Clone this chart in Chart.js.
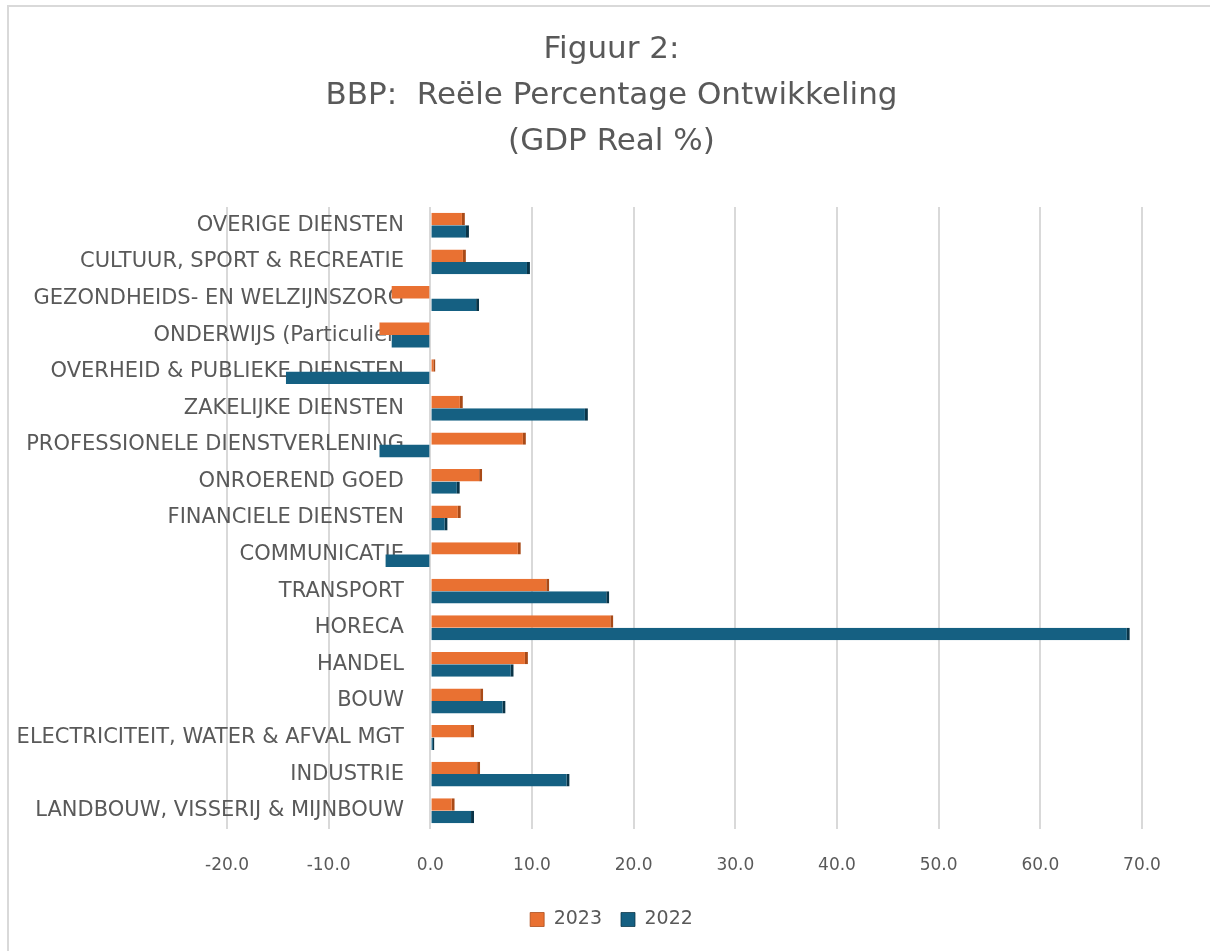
<!DOCTYPE html>
<html lang="nl">
<head>
<meta charset="UTF-8" />
<title>Figuur 2: BBP Reële Percentage Ontwikkeling</title>
<script src="https://cdn.jsdelivr.net/npm/chart.js@4"></script>
<style>
  html, body { margin: 0; padding: 0; background: #fff; overflow: hidden; }
  .frame { position: absolute; left: 7px; top: 5px; width: 1260px; height: 1000px; border: 2px solid #d9d9d9; box-sizing: border-box; }
  .wrap { position: absolute; left: 0; top: 0; width: 1210px; height: 951px; }
</style>
</head>
<body>
<div class="frame"></div>
<div class="wrap"><canvas id="gdpChart" width="1210" height="951"></canvas></div>
<script>
// sectors, top to bottom as shown in the picture
const sectors = [
  'OVERIGE DIENSTEN',
  'CULTUUR, SPORT & RECREATIE',
  'GEZONDHEIDS- EN WELZIJNSZORG',
  'ONDERWIJS (Particulier)',
  'OVERHEID & PUBLIEKE DIENSTEN',
  'ZAKELIJKE DIENSTEN',
  'PROFESSIONELE DIENSTVERLENING',
  'ONROEREND GOED',
  'FINANCIELE DIENSTEN',
  'COMMUNICATIE',
  'TRANSPORT',
  'HORECA',
  'HANDEL',
  'BOUW',
  'ELECTRICITEIT, WATER & AFVAL MGT',
  'INDUSTRIE',
  'LANDBOUW, VISSERIJ & MIJNBOUW'
];
const values2023 = [3.4, 3.5, -3.8, -5.0, 0.5, 3.2, 9.4, 5.1, 3.0, 8.9, 11.7, 18.0, 9.6, 5.2, 4.3, 4.9, 2.4];
const values2022 = [3.8, 9.8, 4.8, -3.8, -14.2, 15.5, -5.0, 2.9, 1.7, -4.4, 17.6, 68.8, 8.2, 7.4, 0.4, 13.7, 4.3];
const xTicks = [-20, -10, 0, 10, 20, 30, 40, 50, 60, 70];
const titleLines = ['Figuur 2:', 'BBP:  Reële Percentage Ontwikkeling', '(GDP Real %)'];

const ORANGE = '#e97132';
const ORANGE_EDGE = '#a94a17';
const BLUE = '#156082';
const BLUE_EDGE = '#0a3447';
const TEXT = '#595959';
const FONT = "'DejaVu Sans', sans-serif";

new Chart(document.getElementById('gdpChart'), {
  type: 'bar',
  data: {
    labels: sectors,
    datasets: [
      {
        label: '2023',
        data: values2023,
        backgroundColor: ORANGE,
        borderColor: ORANGE_EDGE,
        borderWidth: { top: 0, bottom: 0, left: 0, right: 3 },
        barPercentage: 1.0,
        categoryPercentage: 0.68
      },
      {
        label: '2022',
        data: values2022,
        backgroundColor: BLUE,
        borderColor: BLUE_EDGE,
        borderWidth: { top: 0, bottom: 0, left: 0, right: 3 },
        barPercentage: 1.0,
        categoryPercentage: 0.68
      }
    ]
  },
  options: {
    indexAxis: 'y',
    responsive: false,
    animation: false,
    layout: { padding: { left: 81, right: 68, top: 0, bottom: 12 } },
    scales: {
      x: {
        min: -20,
        max: 70,
        afterBuildTicks: axis => { axis.ticks = xTicks.map(v => ({ value: v })); },
        afterFit: s => { s.height = 62; },
        grid: { color: '#d9d9d9', lineWidth: 2, drawTicks: false },
        border: { display: false },
        ticks: {
          padding: 26,
          color: TEXT,
          font: { family: FONT, size: 17 },
          callback: v => Number(v).toFixed(1)
        }
      },
      y: {
        position: { x: -2.6 },
        z: 1,
        grid: { display: false, drawTicks: false },
        border: { display: false },
        ticks: {
          color: TEXT,
          font: { family: FONT, size: 21 }
        }
      },
      // empty axis that only reserves the space left of the plot
      pad: {
        axis: 'y',
        type: 'category',
        position: 'left',
        grid: { display: false, drawTicks: false },
        border: { display: false },
        ticks: { display: false },
        afterFit: s => { s.width = 146; }
      }
    },
    plugins: {
      title: {
        display: true,
        text: titleLines,
        color: TEXT,
        font: { family: FONT, size: 31, weight: 'normal', lineHeight: '46px' },
        padding: { top: 27, bottom: 42 }
      },
      legend: {
        position: 'bottom',
        labels: {
          color: TEXT,
          boxWidth: 14,
          boxHeight: 14,
          padding: 19,
          font: { family: FONT, size: 19 }
        }
      },
      tooltip: { enabled: false }
    }
  }
});
</script>
</body>
</html>
